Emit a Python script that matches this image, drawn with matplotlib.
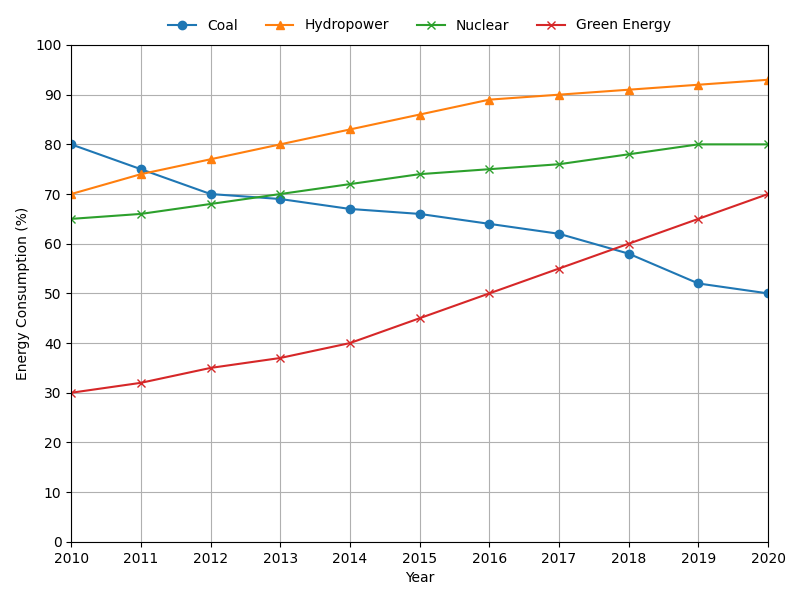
import matplotlib
matplotlib.use("Agg")
import matplotlib.pyplot as plt

years = [2010, 2011, 2012, 2013, 2014, 2015, 2016, 2017, 2018, 2019, 2020]
coal = [80, 75, 70, 69, 67, 66, 64, 62, 58, 52, 50]
hydro = [70, 74, 77, 80, 83, 86, 89, 90, 91, 92, 93]
nuclear = [65, 66, 68, 70, 72, 74, 75, 76, 78, 80, 80]
green = [30, 32, 35, 37, 40, 45, 50, 55, 60, 65, 70]

fig, ax = plt.subplots(figsize=(8, 6), dpi=100)
fig.subplots_adjust(left=0.089, right=0.96, top=0.925, bottom=0.097)

ax.plot(years, coal, marker='o', label='Coal', color='#1f77b4')
ax.plot(years, hydro, marker='^', label='Hydropower', color='#ff7f0e')
ax.plot(years, nuclear, marker='x', label='Nuclear', color='#2ca02c')
ax.plot(years, green, marker='x', label='Green Energy', color='#d62728')

ax.set_xlim(2010, 2020)
ax.set_ylim(0, 100)
ax.set_xticks(years)
ax.set_yticks(range(0, 101, 10))
ax.set_xlabel('Year')
ax.set_ylabel('Energy Consumption (%)')
ax.grid(True)
ax.legend(loc='lower center', bbox_to_anchor=(0.5, 1.0), ncol=4, frameon=False)

fig.savefig('out.png', dpi=100)
